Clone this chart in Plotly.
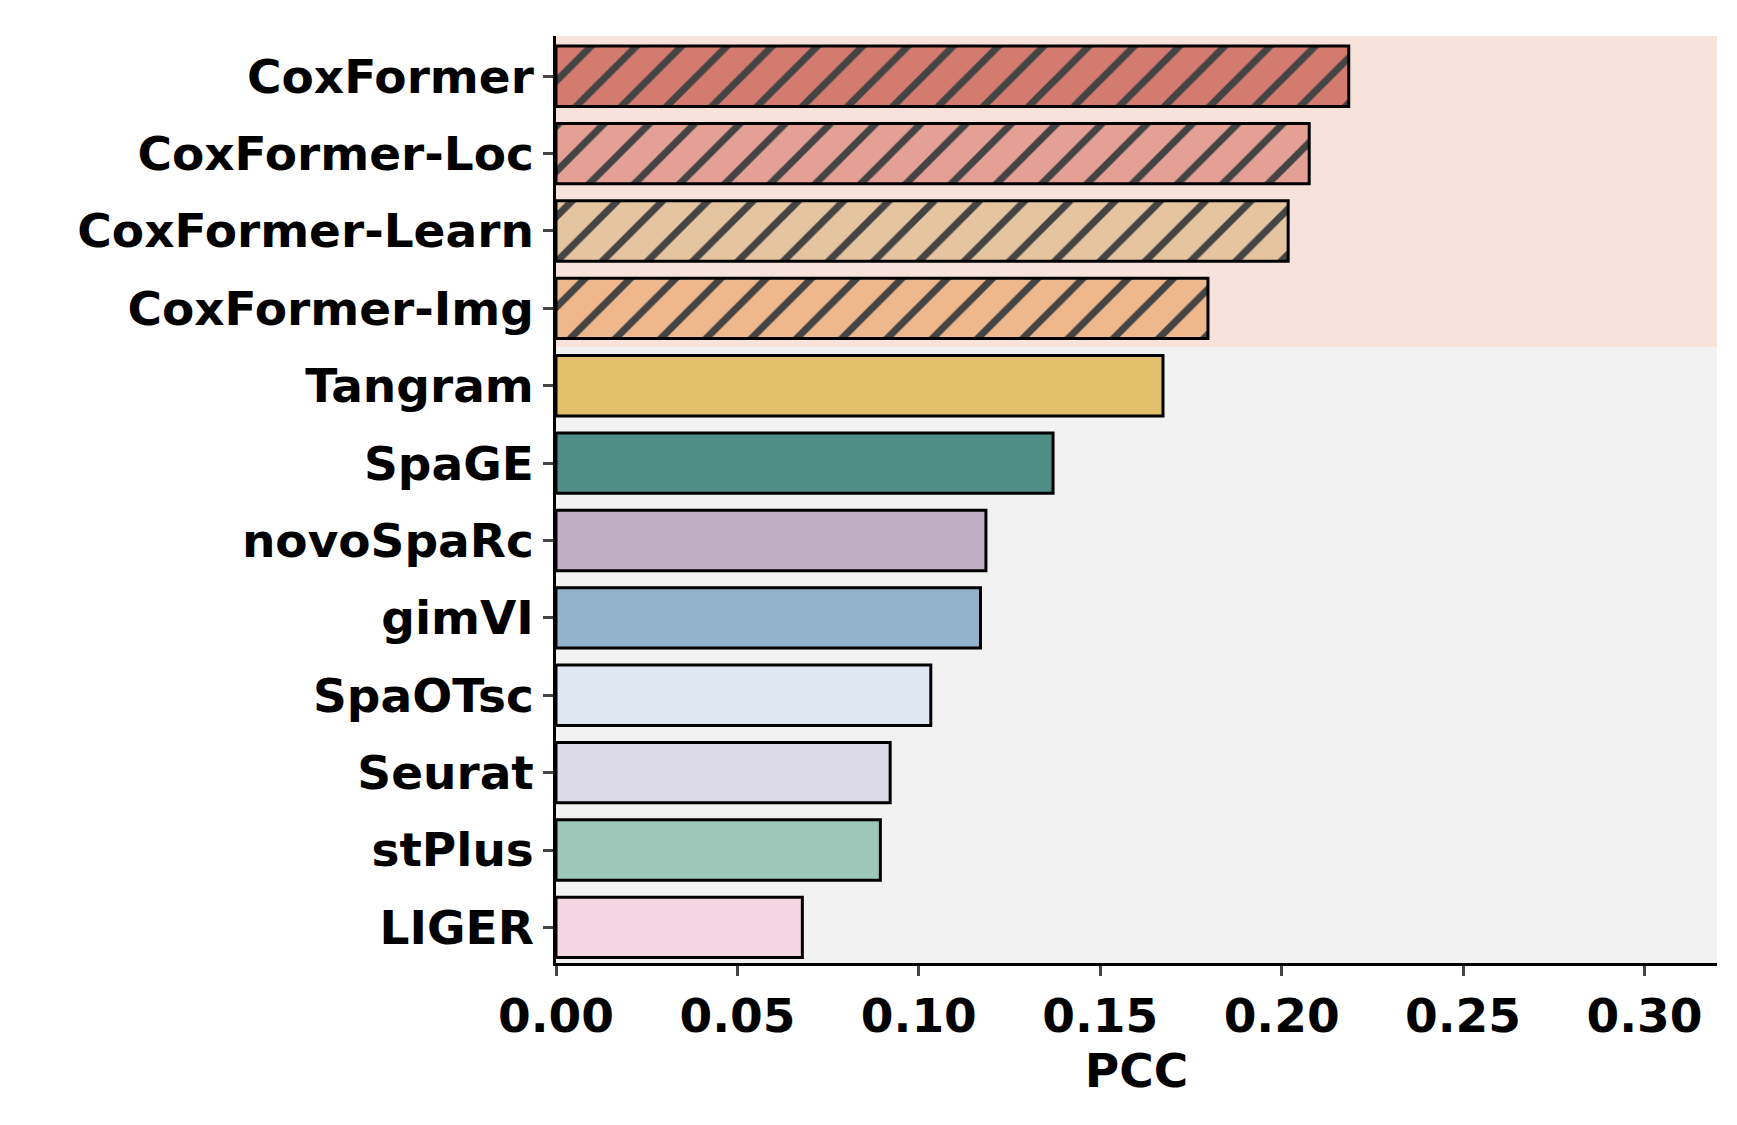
import plotly.graph_objects as go

methods = ["CoxFormer", "CoxFormer-Loc", "CoxFormer-Learn", "CoxFormer-Img", "Tangram", "SpaGE",
           "novoSpaRc", "gimVI", "SpaOTsc", "Seurat", "stPlus", "LIGER"]
pcc = [0.2185, 0.2076, 0.2018, 0.1797, 0.1673, 0.1370, 0.1185, 0.1170, 0.1033, 0.0921, 0.0894, 0.0679]
colors = ["#d47b70", "#e4a095", "#e5c4a0", "#efb88c", "#e2c06b", "#4f8e86",
          "#c0aec5", "#93b2cb", "#dfe8f2", "#dcdae8", "#9dc7b9", "#f3d6e2"]
hatched = [True, True, True, True] + [False] * 8
xticks = [0.0, 0.05, 0.10, 0.15, 0.20, 0.25, 0.30]

fig = go.Figure()
fig.add_trace(go.Bar(
    x=pcc, y=methods, orientation="h", width=0.78,
    marker=dict(color=colors, line=dict(color="black", width=3),
                pattern=dict(shape=["/" if h else "" for h in hatched],
                             fgcolor="black", bgcolor=colors, size=32, solidity=0.22,
                             fillmode="overlay", fgopacity=1)),
))
fig.add_shape(type="rect", xref="x", yref="y", x0=0, x1=0.32, y0=-0.52, y1=3.5,
              fillcolor="#f8e3dc", line_width=0, layer="below")
fig.add_shape(type="rect", xref="x", yref="y", x0=0, x1=0.32, y0=3.5, y1=11.46,
              fillcolor="#f1f2f1", line_width=0, layer="below")

font = dict(family="DejaVu Sans", size=47, color="black")
fig.update_layout(
    width=1737, height=1125, plot_bgcolor="white", paper_bgcolor="white",
    margin=dict(l=548, r=28, t=28, b=170), showlegend=False,
    font=font,
    xaxis=dict(range=[0, 0.32], tickvals=xticks, ticktext=[f"<b>{v:.2f}</b>" for v in xticks],
               ticks="outside", ticklen=10, tickwidth=2.5, showline=True, linecolor="black",
               linewidth=2.5, showgrid=False, zeroline=False,
               title=dict(text="<b>PCC</b>", font=font, standoff=12)),
    yaxis=dict(range=[11.46, -0.52], tickvals=methods, ticktext=[f"<b>{m}</b>" for m in methods],
               ticks="outside", ticklen=10, tickwidth=2.5, showline=True, linecolor="black",
               linewidth=2.5, showgrid=False),
)
fig.write_html("out.html")
